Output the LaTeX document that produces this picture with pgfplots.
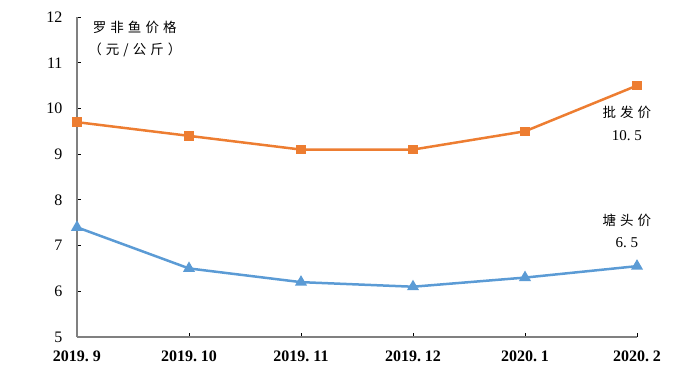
\documentclass[border=0pt]{standalone}
\usepackage{fontspec}
\setmainfont{Liberation Serif}
\newfontfamily\cjk[LetterSpace=30]{Noto Sans CJK SC}
\usepackage{pgfplots}
\pgfplotsset{compat=1.18}
\definecolor{orng}{HTML}{ED7D31}
\definecolor{blu}{HTML}{5B9BD5}
\definecolor{axgray}{HTML}{808080}
\begin{document}
\begin{tikzpicture}[x=1pt,y=1pt]
\useasboundingbox (-77,-47) rectangle (623,337);
\begin{axis}[
  at={(0,0)}, anchor=south west,
  width=560pt, height=320pt, scale only axis,
  xmin=0, xmax=5, ymin=5, ymax=12,
  axis x line=bottom, axis y line=left,
  axis line style={-, draw=axgray, line width=1.5pt},
  tick align=inside,
  major tick length=4pt,
  tick style={black, line width=0.8pt},
  xtick={0,1,2,3,4,5},
  xticklabels={2019.\ 9,2019.\ 10,2019.\ 11,2019.\ 12,2020.\ 1,2020.\ 2},
  ytick={5,6,7,8,9,10,11,12},
  /pgf/number format/assume math mode=true,
  y tick label style={font=\fontsize{16}{16}\selectfont, xshift=-11pt},
  x tick label style={font=\bfseries\fontsize{16}{16}\selectfont, yshift=-10pt},
  clip=false,
]
\addplot[orng, line width=2.5pt, mark=square*, mark size=3.5pt, mark options={solid}]
  coordinates {(0,9.7) (1,9.4) (2,9.1) (3,9.1) (4,9.5) (5,10.5)};
\addplot[blu, line width=2.5pt, mark=triangle*, mark size=4.5pt, mark options={solid}]
  coordinates {(0,7.4) (1,6.5) (2,6.2) (3,6.1) (4,6.3) (5,6.55)};
\node[anchor=west, font=\cjk\fontsize{13.5}{13.5}\selectfont, inner sep=0pt] at (axis cs:0.14,11.78) {罗非鱼价格};
\node[anchor=west, font=\cjk\fontsize{13.5}{13.5}\selectfont, inner sep=0pt] at (axis cs:0.10,11.28) {（元/公斤）};
\node[font=\cjk\fontsize{13.5}{13.5}\selectfont, inner sep=0pt] at (axis cs:4.91,9.92) {批发价};
\node[font=\fontsize{15}{15}\selectfont, inner sep=0pt] at (axis cs:4.91,9.40) {10.\ 5};
\node[font=\cjk\fontsize{13.5}{13.5}\selectfont, inner sep=0pt] at (axis cs:4.91,7.56) {塘头价};
\node[font=\fontsize{15}{15}\selectfont, inner sep=0pt] at (axis cs:4.91,7.06) {6.\ 5};
\end{axis}
\end{tikzpicture}
\end{document}
